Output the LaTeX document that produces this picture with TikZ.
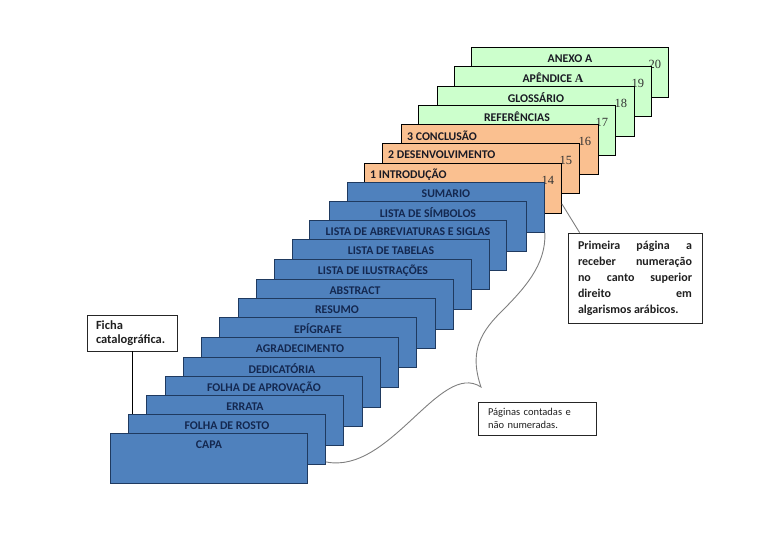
\documentclass[tikz,border=0pt]{standalone}
\usepackage{fontspec}
\setmainfont{Carlito}
\newfontfamily\numfont{Liberation Serif}
\usepackage{tikz}
\definecolor{pageblue}{HTML}{4F81BD}
\definecolor{blueline}{HTML}{1F3A60}
\definecolor{pageorange}{HTML}{FAC090}
\definecolor{pagegreen}{HTML}{CCFFCC}
\definecolor{titlenavy}{HTML}{142850}
\definecolor{titledark}{HTML}{1A1A24}
\definecolor{notegray}{HTML}{7F7F7F}
\definecolor{notetext}{HTML}{202020}

\begin{document}
\begin{tikzpicture}[x=1pt,y=-1pt,
  page/.style={minimum width=197pt,minimum height=50pt,anchor=north west,inner sep=0pt,line width=0.9pt},
  bluepage/.style={page,draw=blueline,fill=pageblue},
  orangepage/.style={page,draw=black,fill=pageorange},
  greenpage/.style={page,draw=black,fill=pagegreen},
  title/.style={anchor=center,yshift=-12pt,inner sep=0pt,font=\bfseries\fontsize{11.8}{13}\selectfont,text=titlenavy},
  darktitle/.style={title,text=titledark},
  lefttitle/.style={darktitle,anchor=west,xshift=6pt},
  pagenum/.style={anchor=center,xshift=-14pt,yshift=-17pt,inner sep=0pt,font=\numfont\fontsize{12.5}{14}\selectfont,text=black!80},
  note/.style={draw=black!85,fill=white,line width=0.8pt,align=left,text=notetext,font=\bfseries\fontsize{12}{14}\selectfont}]
  \useasboundingbox (0,0) rectangle (768,556);

  % post-textual and textual pages, back to front
  \node[greenpage,label={[darktitle]north:ANEXO A},label={[pagenum]north east:20}] (anexo) at (471,47) {};
  \node[greenpage,label={[darktitle]north:{APÊNDICE {\numfont\bfseries A}}},label={[pagenum]north east:19}] (apendice) at (454,66) {};
  \node[greenpage,label={[darktitle]north:GLOSSÁRIO},label={[pagenum]north east:18}] (glossario) at (437,86) {};
  \node[greenpage,label={[darktitle]north:REFERÊNCIAS},label={[pagenum]north east:17}] (referencias) at (418,105) {};
  \node[orangepage,label={[lefttitle]north west:3 CONCLUSÃO},label={[pagenum]north east:16}] (conclusao) at (401,124) {};
  \node[orangepage,label={[lefttitle]north west:2 DESENVOLVIMENTO},label={[pagenum]north east:15}] (desenv) at (382,143) {};
  \node[orangepage,label={[lefttitle]north west:1 INTRODUÇÃO},label={[pagenum]north east:14}] (intro) at (364,163) {};

  % pre-textual pages
  \node[bluepage,label={[title]north:SUMARIO}] (sumario) at (347,182) {};
  \node[bluepage,label={[title]north:LISTA DE SÍMBOLOS}] (simbolos) at (329,201) {};
  \node[bluepage,label={[title]north:LISTA DE ABREVIATURAS E SIGLAS}] (siglas) at (309,220) {};
  \node[bluepage,label={[title]north:LISTA DE TABELAS}] (tabelas) at (292,239) {};
  \node[bluepage,label={[title]north:LISTA DE ILUSTRAÇÕES}] (ilustracoes) at (274,259) {};
  \node[bluepage,label={[title]north:ABSTRACT}] (abstract) at (256,279) {};
  \node[bluepage,label={[title]north:RESUMO}] (resumo) at (238,298) {};
  \node[bluepage,label={[title]north:EPÍGRAFE}] (epigrafe) at (219,317) {};
  \node[bluepage,label={[title]north:AGRADECIMENTO}] (agradecimento) at (201,337) {};
  \node[bluepage,label={[title]north:DEDICATÓRIA}] (dedicatoria) at (183,357) {};
  \node[bluepage,label={[title]north:FOLHA DE APROVAÇÃO}] (aprovacao) at (165,376) {};
  \node[bluepage,label={[title]north:ERRATA}] (errata) at (146,395) {};
  \node[bluepage,label={[title]north:FOLHA DE ROSTO}] (rosto) at (128,414) {};
  \node[bluepage,label={[title]north:CAPA}] (capa) at (110,433) {};

  % notes
  \node[note,text width=72pt,inner xsep=9pt,inner ysep=4pt,minimum height=36pt,font=\bfseries\fontsize{12.5}{14}\selectfont] (ficha) at (132,333) {Ficha\\catalográfica.};
  \draw[line width=0.8pt] (ficha.south) -- (ficha.south |- rosto.north);

  \node[note,text width=114pt,align=justify,inner xsep=10pt,minimum height=90pt,font=\bfseries\fontsize{12}{16}\selectfont] (primeira) at (635,278)
    {Primeira página a\linebreak receber numeração\linebreak no canto superior\linebreak direito em\linebreak algarismos arábicos.};
  \draw[notegray,line width=0.9pt] ([yshift=10pt]intro.south east) -- ([xshift=12pt]primeira.north west);

  \node[note,text width=98pt,inner xsep=10pt,inner ysep=3pt,minimum height=33pt,font=\fontsize{10.5}{12.5}\selectfont] (paginas) at (537,418.5)
    {Páginas contadas e\\não numeradas.};
  \coordinate (bracetip) at (481,387);
  \coordinate (bracebend) at (500,313);
  \draw[notegray,line width=0.9pt] ([yshift=3pt]rosto.south east) .. controls (390,475) and (440,360) .. (bracetip)
    .. controls (470,355) and (478,335) .. (bracebend) .. controls (525,288) and (546,265) .. (sumario.south east);
\end{tikzpicture}
\end{document}
